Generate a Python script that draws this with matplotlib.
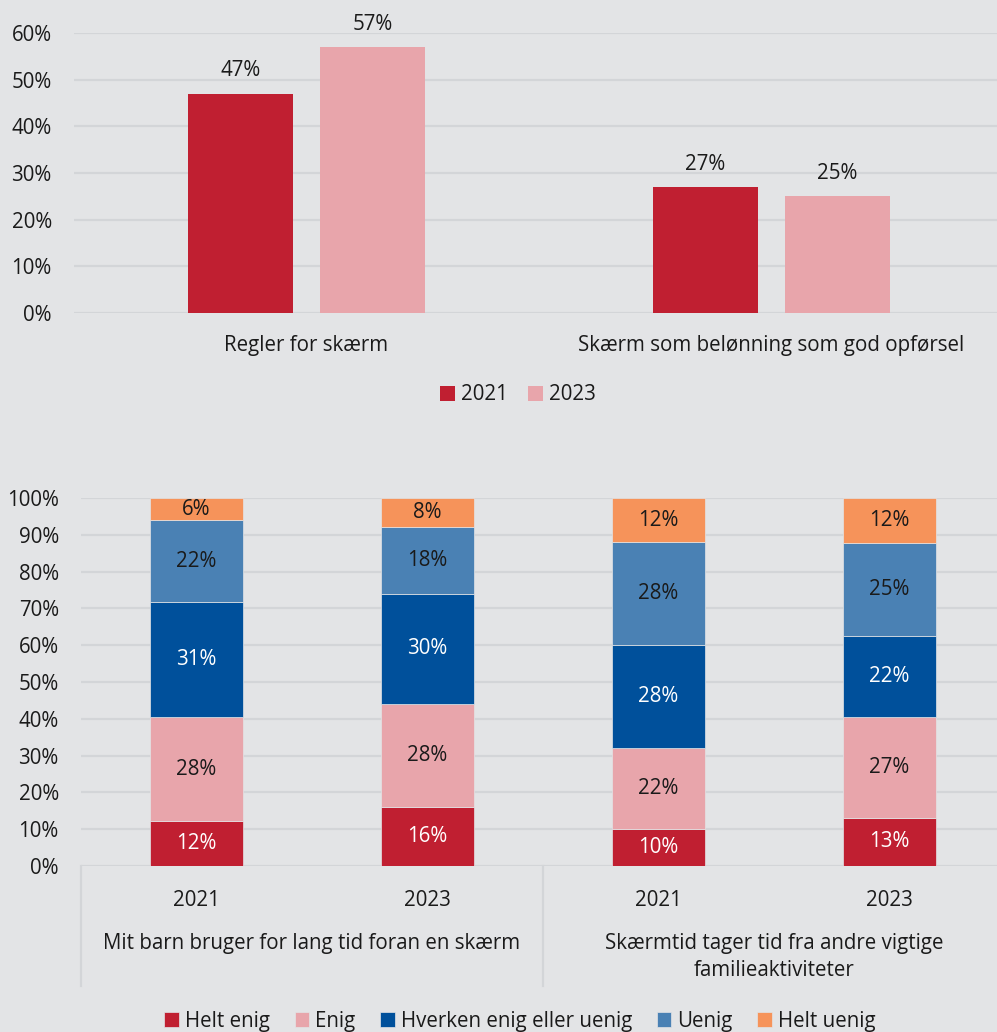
import matplotlib
matplotlib.use("Agg")
import matplotlib.pyplot as plt
import matplotlib.transforms as mtransforms
import numpy as np

plt.rcParams['font.family'] = ['Open Sans', 'DejaVu Sans']
plt.rcParams['font.size'] = 14.8

# farver
bg = '#E3E4E6'
grid_col = '#D3D5D8'
red = '#C01F31'
pink = '#E8A5AB'
dblue = '#00509B'
lblue = '#4A81B4'
orange = '#F6935A'
txt = '#1A1A1A'
fs = 14.8

# øverste figur: regler og belønning
top_cats = ['Regler for skærm', 'Skærm som belønning som god opførsel']
top_2021 = [47, 27]
top_2023 = [57, 25]

# nederste figur: enighed i udsagn
groups = ['Mit barn bruger for lang tid foran en skærm',
          'Skærmtid tager tid fra andre vigtige\nfamilieaktiviteter']
years = ['2021', '2023', '2021', '2023']
levels = ['Helt enig', 'Enig', 'Hverken enig eller uenig', 'Uenig', 'Helt uenig']
helt_enig = [12, 16, 10, 13]
enig = [28, 28, 22, 27]
hverken = [31, 30, 28, 22]
uenig = [22, 18, 28, 25]
helt_uenig = [6, 8, 12, 12]

W, H = 997, 1032
fig = plt.figure(figsize=(W / 100, H / 100), dpi=100)
fig.patch.set_facecolor(bg)


def px_axes(left, top, right, bottom):
    return fig.add_axes([left / W, 1 - bottom / H, (right - left) / W, (bottom - top) / H])


def style(ax):
    ax.set_facecolor(bg)
    for s in ax.spines.values():
        s.set_visible(False)
    ax.yaxis.grid(True, color=grid_col, linewidth=1.6)
    ax.set_axisbelow(True)
    ax.tick_params(axis='both', length=0, labelcolor=txt, labelsize=fs)


# --- øverst ---
ax1 = px_axes(74, 33, 1004, 313)
style(ax1)
x = np.arange(len(top_cats))
bw = 0.224
off = 0.142
b1 = ax1.bar(x - off, np.array(top_2021) / 100, bw, color=red, label='2021')
b2 = ax1.bar(x + off, np.array(top_2023) / 100, bw, color=pink, label='2023')
for bars, vals in ((b1, top_2021), (b2, top_2023)):
    for r, v in zip(bars, vals):
        ax1.text(r.get_x() + r.get_width() / 2, v / 100 + 0.049, f'{v}%',
                 ha='center', va='center', fontsize=fs, color=txt, clip_on=False)
ax1.set_xlim(-0.5, 1.5)
ax1.set_ylim(0, 0.6)
ax1.set_yticks(np.arange(0, 0.61, 0.1))
ax1.set_yticklabels([f'{int(round(t * 100))}%' for t in np.arange(0, 0.61, 0.1)])
ax1.set_xticks(x)
ax1.set_xticklabels(top_cats)
ax1.tick_params(axis='x', pad=16)
ax1.tick_params(axis='y', pad=16)
fig.legend(handles=[b1, b2], labels=['2021', '2023'], loc='center',
           bbox_to_anchor=(518 / W, 1 - 395 / H), ncol=2, frameon=False,
           handlelength=0.7, handleheight=0.7, handletextpad=0.3,
           columnspacing=1.0, fontsize=fs, labelcolor=txt)

# --- nederst ---
ax2 = px_axes(81, 498, 1005, 866)
style(ax2)
series = [helt_enig, enig, hverken, uenig, helt_uenig]
colors = [red, pink, dblue, lblue, orange]
label_cols = ['white', txt, 'white', txt, txt]
data = np.array(series, dtype=float)
shares = data / data.sum(axis=0)
xb = np.arange(len(years))
bottom = np.zeros(len(years))
handles = []
for i in range(len(levels)):
    h = ax2.bar(xb, shares[i], 0.4, bottom=bottom, color=colors[i],
                edgecolor=bg, linewidth=0.5, label=levels[i])
    handles.append(h)
    for j in range(len(years)):
        ax2.text(xb[j], bottom[j] + shares[i][j] / 2, f'{series[i][j]}%',
                 ha='center', va='center', fontsize=fs, color=label_cols[i])
    bottom += shares[i]
ax2.set_xlim(-0.5, 3.5)
ax2.set_ylim(0, 1)
ax2.set_yticks(np.arange(0, 1.01, 0.1))
ax2.set_yticklabels([f'{int(round(t * 100))}%' for t in np.arange(0, 1.01, 0.1)])
ax2.tick_params(axis='y', pad=16)
ax2.set_xticks([])

# kategoriakse i to niveauer
tr = mtransforms.blended_transform_factory(ax2.transData, ax2.transAxes)
for j, yr in enumerate(years):
    ax2.text(xb[j], -34 / 368, yr, transform=tr, ha='center', va='center',
             fontsize=fs, color=txt)
for g, name in enumerate(groups):
    ax2.text(2 * g + 0.5, -67 / 368, name, transform=tr, ha='center', va='top',
             fontsize=fs, color=txt, linespacing=1.35)
for xs in (-0.5, 1.5, 3.5):
    ax2.plot([xs, xs], [0, -120 / 368], transform=tr, color=grid_col,
             linewidth=1.6, clip_on=False)

fig.legend(handles=handles, labels=levels, loc='center',
           bbox_to_anchor=(520 / W, 1 - 1021 / H), ncol=5, frameon=False,
           handlelength=0.7, handleheight=0.7, handletextpad=0.3,
           columnspacing=1.2, fontsize=fs, labelcolor=txt)

fig.savefig('out.png', dpi=100, facecolor=bg)
